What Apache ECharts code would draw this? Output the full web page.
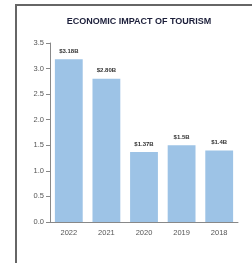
<!DOCTYPE html>
<html>
<head>
<meta charset="utf-8">
<script src="https://cdn.jsdelivr.net/npm/echarts@6/dist/echarts.min.js"></script>
<style>
  html, body { margin: 0; padding: 0; background: #fff; }
  #chart { width: 252px; height: 263px; }
  .frame {
    position: absolute;
    left: 15px;
    top: 4px;
    width: 240px;
    height: 270px;
    border-top: 2px solid #666;
    border-left: 2px solid #666;
    pointer-events: none;
  }
</style>
</head>
<body>
<div id="chart"></div>
<div class="frame"></div>
<script>
const years = ["2022", "2021", "2020", "2019", "2018"];
const impact = [3.18, 2.8, 1.37, 1.5, 1.4];
const impactLabels = ["$3.18B", "$2.80B", "$1.37B", "$1.5B", "$1.4B"];

const chart = echarts.init(document.getElementById("chart"));

chart.setOption({
  animation: false,
  title: {
    text: "ECONOMIC IMPACT OF TOURISM",
    left: 134,
    textAlign: "center",
    top: 12,
    textStyle: {
      fontFamily: "Liberation Sans",
      fontSize: 9,
      fontWeight: "bold",
      color: "#1c1f3a",
    },
  },
  grid: {
    left: 50,
    right: 14,
    top: 43,
    bottom: 41,
  },
  xAxis: {
    type: "category",
    data: years,
    axisLine: { lineStyle: { color: "#888", width: 1 } },
    axisTick: { inside: true, length: 4, lineStyle: { color: "#888" } },
    axisLabel: {
      color: "#555",
      fontFamily: "Liberation Sans",
      fontSize: 7.5,
      margin: 7,
    },
  },
  yAxis: {
    type: "value",
    min: 0,
    max: 3.5,
    interval: 0.5,
    axisLine: { show: true, lineStyle: { color: "#888", width: 1 } },
    axisTick: { show: true, length: 4, lineStyle: { color: "#888" } },
    splitLine: { show: false },
    axisLabel: {
      color: "#555",
      fontFamily: "Liberation Sans",
      fontSize: 7.5,
      margin: 6,
      formatter: (v) => v.toFixed(1),
    },
  },
  series: [
    {
      type: "bar",
      data: impact,
      barCategoryGap: "26%",
      itemStyle: { color: "#9dc3e6" },
      label: {
        show: true,
        position: "top",
        distance: 5,
        fontFamily: "Liberation Sans",
        fontSize: 6,
        fontWeight: "bold",
        color: "#333",
        formatter: (p) => impactLabels[p.dataIndex],
      },
    },
  ],
});
</script>
</body>
</html>
